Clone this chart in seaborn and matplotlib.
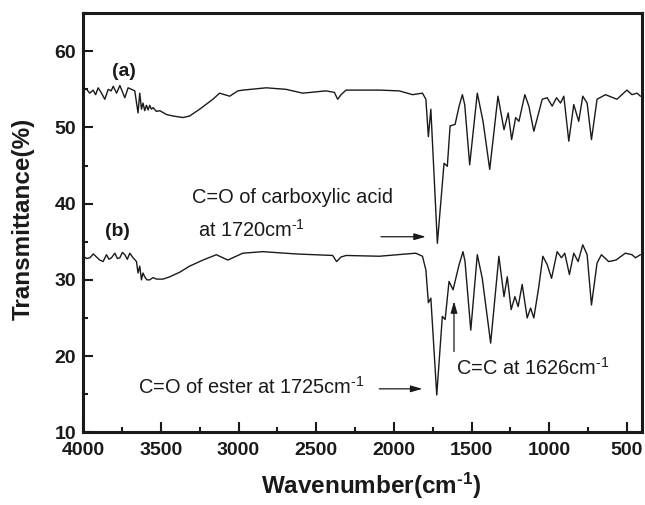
import numpy as np
import matplotlib
matplotlib.use('Agg')
import matplotlib.pyplot as plt
import seaborn as sns
import pandas as pd
from matplotlib.ticker import MultipleLocator

# FTIR spectra
wn_a = [4000, 3978, 3958, 3936, 3920, 3904, 3885, 3861, 3839, 3820, 3807, 3785, 3764, 3748,
        3732, 3711, 3689, 3668, 3647, 3636, 3625, 3615, 3604, 3593, 3582, 3572, 3561, 3550,
        3529, 3507, 3464, 3422, 3358, 3315, 3250, 3165, 3122, 3057, 3004, 2972, 2822, 2694,
        2587, 2437, 2383, 2362, 2340, 2308, 2094, 1966, 1880, 1816, 1794, 1778, 1762, 1720,
        1677, 1656, 1638, 1606, 1580, 1559, 1544, 1512, 1463, 1426, 1383, 1330, 1291, 1264,
        1242, 1216, 1195, 1157, 1131, 1099, 1045, 1013, 981, 953, 927, 906, 874, 842, 810,
        784, 756, 728, 692, 638, 564, 500, 467, 435, 413]
t_a = [55.0, 55.0, 54.5, 54.9, 54.3, 55.2, 54.6, 53.7, 55.0, 54.8, 55.4, 54.5, 55.5, 54.7,
       53.9, 55.2, 55.0, 54.8, 51.9, 54.5, 52.4, 53.2, 52.2, 52.9, 52.3, 52.9, 52.4, 52.6,
       52.1, 52.2, 51.7, 51.5, 51.3, 51.5, 52.4, 53.7, 54.5, 54.1, 54.8, 54.9, 55.2, 55.0,
       54.5, 54.8, 54.6, 53.7, 54.3, 54.9, 54.9, 54.8, 54.3, 54.5, 53.7, 48.8, 52.4, 34.8,
       45.3, 44.9, 50.2, 50.4, 52.8, 54.3, 53.0, 45.1, 54.5, 50.8, 44.5, 54.1, 49.7, 51.9,
       48.4, 51.3, 50.8, 54.3, 52.8, 49.5, 53.7, 53.9, 52.8, 53.9, 53.2, 54.1, 48.2, 53.0, 50.8,
       54.1, 53.2, 48.4, 53.7, 54.3, 53.7, 54.9, 54.3, 54.5, 54.1]

wn_b = [4000, 3978, 3957, 3935, 3914, 3893, 3872, 3850, 3834, 3818, 3796, 3780, 3764, 3748,
        3732, 3716, 3700, 3679, 3657, 3647, 3636, 3625, 3615, 3604, 3590, 3572, 3550, 3529,
        3486, 3443, 3379, 3315, 3229, 3143, 3069, 2994, 2972, 2844, 2629, 2394, 2369, 2340,
        2308, 2094, 1859, 1816, 1794, 1778, 1762, 1724, 1688, 1670, 1645, 1619, 1580, 1555,
        1542, 1505, 1463, 1431, 1377, 1324, 1291, 1270, 1245, 1221, 1200, 1174, 1142, 1120,
        1099, 1067, 1041, 1013, 985, 949, 921, 900, 870, 842, 814, 784, 756, 728, 692, 664,
        617, 570, 510, 467, 445, 413]
t_b = [33.1, 32.8, 32.9, 33.4, 33.0, 32.6, 32.4, 33.3, 32.7, 32.9, 33.5, 32.8, 32.9, 33.6,
       33.3, 32.7, 33.5, 32.9, 32.4, 30.9, 31.8, 30.0, 30.9, 30.4, 30.0, 30.0, 30.3, 30.1,
       30.1, 30.4, 31.0, 31.8, 32.6, 33.3, 32.6, 33.3, 33.5, 33.7, 33.4, 33.2, 32.4, 33.0,
       33.2, 33.1, 33.5, 33.1, 31.3, 27.0, 27.6, 14.9, 25.2, 24.8, 29.8, 28.7, 32.0, 33.7,
       32.4, 23.4, 33.3, 30.2, 21.7, 33.1, 27.8, 30.4, 26.1, 27.8, 26.5, 29.4, 25.0, 26.3,
       25.0, 29.1, 33.1, 32.0, 30.2, 33.7, 32.9, 33.5, 30.7, 33.5, 32.4, 34.6, 33.3, 26.7,
       32.2, 33.3, 32.4, 32.6, 33.5, 33.3, 32.9, 33.3]

sns.set_style('ticks')
plt.rcParams['font.family'] = ['Liberation Sans', 'DejaVu Sans']
plt.rcParams['mathtext.default'] = 'regular'

HY = '\u2010'  # plain hyphen so mathtext does not turn it into a long minus
SUP = r'$^{' + HY + r'1}$'

fig, ax = plt.subplots(figsize=(6.45, 5.05), dpi=100)
fig.subplots_adjust(left=0.129, right=0.996, bottom=0.144, top=0.974)

df_a = pd.DataFrame({'wn': wn_a, 'T': t_a})
df_b = pd.DataFrame({'wn': wn_b, 'T': t_b})
sns.lineplot(data=df_a, x='wn', y='T', color='#1a1a1a', linewidth=1.0, ax=ax)
sns.lineplot(data=df_b, x='wn', y='T', color='#1a1a1a', linewidth=1.0, ax=ax)

ax.set_xlim(4000, 400)
ax.set_ylim(10, 65)
ax.xaxis.set_minor_locator(MultipleLocator(250))
ax.yaxis.set_minor_locator(MultipleLocator(5))
ax.set_xticks([4000, 3500, 3000, 2500, 2000, 1500, 1000, 500])
ax.set_yticks([10, 20, 30, 40, 50, 60])

ax.tick_params(which='both', direction='in', width=1.5, color='#1a1a1a')
ax.tick_params(which='major', length=7)
ax.tick_params(which='minor', length=3.5)
ax.tick_params(axis='x', which='major', pad=7, labelsize=14)
ax.tick_params(axis='y', which='major', pad=5, labelsize=14)
for lab in ax.get_xticklabels() + ax.get_yticklabels():
    lab.set_fontweight('bold')
    lab.set_color('#1a1a1a')

for s in ax.spines.values():
    s.set_linewidth(2.2)
    s.set_color('#1a1a1a')

ax.set_xlabel('Wavenumber(cm' + SUP + ')', fontsize=17.5, fontweight='bold', color='#1a1a1a')
ax.set_ylabel('Transmittance(%)', fontsize=17.5, fontweight='bold', color='#1a1a1a')
ax.xaxis.set_label_coords(0.515, -0.093)
ax.yaxis.set_label_coords(-0.086, 0.51)

# labels and annotations
ax.text(3739, 57.3, '(a)', fontsize=14, fontweight='bold', ha='center', va='center', color='#1a1a1a')
ax.text(3780, 36.3, '(b)', fontsize=14, fontweight='bold', ha='center', va='center', color='#1a1a1a')
ax.text(3302, 40.8, 'C=O of carboxylic acid', fontsize=14.4, ha='left', va='center', color='#1a1a1a')
ax.text(3261, 36.6, 'at 1720cm' + SUP, fontsize=14.4, ha='left', va='center', color='#1a1a1a')
ax.text(3647, 15.9, 'C=O of ester at 1725cm' + SUP, fontsize=14.4, ha='left', va='center', color='#1a1a1a')
ax.text(1602, 18.4, 'C=C at 1626cm' + SUP, fontsize=14.4, ha='left', va='center', color='#1a1a1a')

arrow = dict(arrowstyle='-|>,head_length=0.7,head_width=0.2', lw=0.9, color='#1a1a1a',
             shrinkA=0, shrinkB=0)
ax.annotate('', xy=(1794, 35.66), xytext=(2083, 35.66), arrowprops=arrow)
ax.annotate('', xy=(1816, 15.7), xytext=(2094, 15.7), arrowprops=arrow)
ax.annotate('', xy=(1613, 27.2), xytext=(1613, 20.6), arrowprops=arrow)

plt.savefig('out.png', dpi=100)
plt.close()
